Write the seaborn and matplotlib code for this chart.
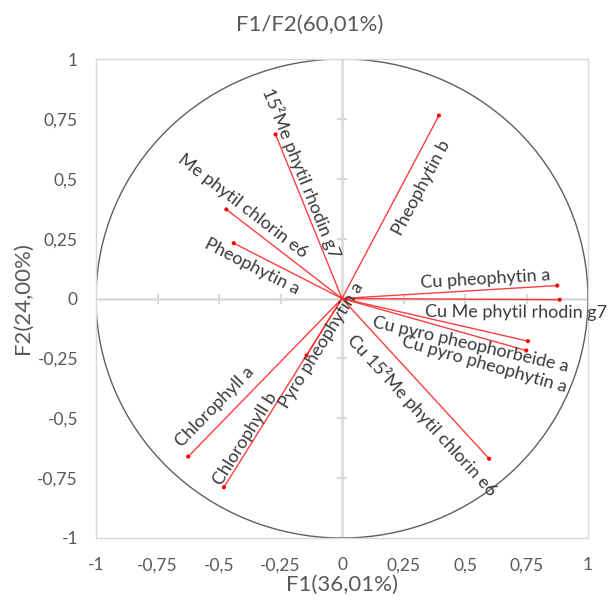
import numpy as np
import pandas as pd
import matplotlib
matplotlib.use("Agg")
import matplotlib.pyplot as plt
from matplotlib.patches import Circle
import seaborn as sns

# Variable loadings on the first two principal components
variables = [
    "Pheophytin b",
    "15²Me phytil rhodin g7",
    "Me phytil chlorin e6",
    "Pheophytin a",
    "Cu pheophytin a",
    "Cu Me phytil rhodin g7",
    "Cu pyro pheophorbeide a",
    "Cu pyro pheophytin a",
    "Cu 15²Me phytil chlorin e6",
    "Chlorophyll a",
    "Chlorophyll b",
    "Pyro pheophytin a",
]
f1 = [0.394, -0.270, -0.470, -0.440, 0.875, 0.885, 0.756, 0.749, 0.598, -0.625, -0.480, -0.144]
f2 = [0.764, 0.685, 0.372, 0.231, 0.054, -0.005, -0.178, -0.217, -0.669, -0.660, -0.788, -0.238]

tick_values = [-1, -0.75, -0.5, -0.25, 0, 0.25, 0.5, 0.75, 1]
tick_labels = ["-1", "-0,75", "-0,5", "-0,25", "0", "0,25", "0,5", "0,75", "1"]

title = "F1/F2(60,01%)"
xlabel = "F1(36,01%)"
ylabel = "F2(24,00%)"

# Label layout: fraction along the arrow, and offset (px) across it
label_t = [0.652, 0.74, 0.926, 0.78, 0.668, 0.80, 0.708, 0.81, 0.642, 0.752, 0.764, 0.755]
label_off = [-18, 9.6, 12, -12.3, 10.3, -13, -16, -25, -19.6, 15.6, 8, -7.5]

sns.set_theme(style="white")
plt.rcParams["font.family"] = ["Lato", "DejaVu Sans"]

W, H = 609, 606
fig = plt.figure(figsize=(W / 100, H / 100), dpi=100)
ax = fig.add_axes([96 / W, 1 - 538 / H, (588 - 96) / W, (538 - 59) / H])
ax.set_xlim(-1, 1)
ax.set_ylim(-1, 1)

grey_light = "#d9d9d9"
grey_text = "#595959"

# Zero axes with cross ticks
ax.axhline(0, color=grey_light, lw=1.8, zorder=1)
ax.axvline(0, color=grey_light, lw=1.8, zorder=1)
ax.plot(tick_values, [0] * len(tick_values), ls="none", marker="|", ms=6.5,
        mew=1.5, color=grey_light, zorder=1)
ax.plot([0] * len(tick_values), tick_values, ls="none", marker="_", ms=6.5,
        mew=1.5, color=grey_light, zorder=1)

# Correlation circle
ax.add_patch(Circle((0, 0), 1, fill=False, ec="#5f5f5f", lw=1.0, zorder=2))

# Arrows from the origin to each loading
segs = pd.DataFrame({
    "variable": np.repeat(variables, 2),
    "F1": np.ravel([[0, x] for x in f1]),
    "F2": np.ravel([[0, y] for y in f2]),
})
sns.lineplot(data=segs, x="F1", y="F2", units="variable", estimator=None,
             sort=False, color="#ff2a2a", lw=1.0, alpha=0.9, ax=ax, zorder=3)
ends = pd.DataFrame({"variable": variables, "F1": f1, "F2": f2})
sns.scatterplot(data=ends, x="F1", y="F2", color="#ff0000", s=9,
                edgecolor="none", ax=ax, zorder=4)

# Labels aligned with their arrows
trans = ax.transData
inv = trans.inverted()
o = trans.transform((0, 0))
for name, x, y, t, off in zip(variables, f1, f2, label_t, label_off):
    e = trans.transform((x, y))
    v = e - o
    ang = np.degrees(np.arctan2(v[1], v[0]))
    if ang > 90:
        ang -= 180
    elif ang < -90:
        ang += 180
    a = np.radians(ang)
    n = np.array([-np.sin(a), np.cos(a)])
    c = o + t * v + off * n
    cx, cy = inv.transform(c)
    ax.text(cx, cy, name, rotation=ang, rotation_mode="anchor",
            ha="center", va="center", fontsize=13, color="#3a3a3a",
            zorder=5, clip_on=False)

ax.set_xticks(tick_values)
ax.set_xticklabels(tick_labels)
ax.set_yticks(tick_values)
ax.set_yticklabels(tick_labels)
ax.tick_params(length=0, labelsize=12.5, labelcolor=grey_text)
ax.tick_params(axis="x", pad=14)
ax.tick_params(axis="y", pad=13)
for s in ax.spines.values():
    s.set_color(grey_light)
    s.set_linewidth(1.0)

ax.set_xlabel(xlabel, fontsize=16, color=grey_text, labelpad=1)
ax.set_ylabel(ylabel, fontsize=16, color=grey_text, labelpad=3)
fig.text(310 / W, 1 - 25 / H, title, ha="center", va="center",
         fontsize=16, color=grey_text)

fig.savefig("out.png", dpi=100)
